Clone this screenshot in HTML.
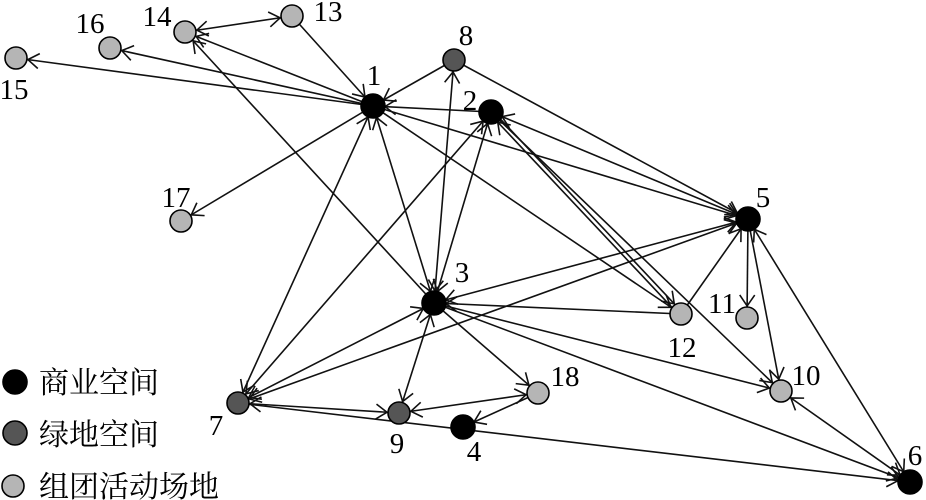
<!DOCTYPE html>
<html><head><meta charset="utf-8">
<style>
html,body{margin:0;padding:0;background:#fff;}
svg{display:block;}
.num{font-family:"Liberation Serif","Noto Serif CJK SC",serif;font-size:29px;fill:#000;text-anchor:middle;}
.leg{font-family:"Liberation Serif","Noto Serif CJK SC",serif;font-size:30px;fill:#000;}
line{stroke:#111;stroke-width:1.6;fill:none;}
line.e{marker-end:url(#ae);}
line.b{marker-end:url(#ae);marker-start:url(#as);}
circle{stroke:#000;stroke-width:1.6;}
.k{fill:#000;}
.d{fill:#555;}
.l{fill:#b5b5b5;}
</style></head>
<body>
<svg width="926" height="500" viewBox="0 0 926 500" xmlns="http://www.w3.org/2000/svg">
<defs>
<marker id="ae" markerUnits="userSpaceOnUse" markerWidth="40" markerHeight="40" refX="0" refY="0" orient="auto" overflow="visible" viewBox="-40 -20 40 40">
<path d="M -23,-7.5 L -12,0 L -23,7.5" fill="none" stroke="#111" stroke-width="1.6"/>
</marker>
<marker id="as" markerUnits="userSpaceOnUse" markerWidth="40" markerHeight="40" refX="0" refY="0" orient="auto-start-reverse" overflow="visible" viewBox="-40 -20 40 40">
<path d="M -23,-7.5 L -12,0 L -23,7.5" fill="none" stroke="#111" stroke-width="1.6"/>
</marker>
</defs>

<!-- edges -->
<line class="b" x1="292" y1="16" x2="185" y2="32"/>
<line class="e" x1="373" y1="106" x2="185" y2="32"/>
<line class="e" x1="373" y1="106" x2="110" y2="48"/>
<line class="e" x1="373" y1="106" x2="16" y2="58"/>
<line class="e" x1="292" y1="16" x2="373" y2="106"/>
<line class="e" x1="373" y1="106" x2="181" y2="221"/>
<line class="e" x1="454" y1="60" x2="373" y2="106"/>
<line class="e" x1="491" y1="112" x2="373" y2="106"/>
<line class="e" x1="373" y1="106" x2="748" y2="219"/>
<line class="e" x1="373" y1="106" x2="681" y2="314"/>
<line class="b" x1="373" y1="106" x2="238" y2="403"/>
<line class="b" x1="373" y1="106" x2="434" y2="303"/>
<line class="e" x1="434" y1="303" x2="185" y2="32"/>
<line class="b" x1="434" y1="303" x2="454" y2="60"/>
<line class="b" x1="434" y1="303" x2="491" y2="112"/>
<line class="b" x1="238" y1="403" x2="491" y2="112"/>
<line class="b" x1="748" y1="219" x2="491" y2="112"/>
<line class="e" x1="492.5" y1="110.6" x2="682.5" y2="312.6"/>
<line class="e" x1="679.5" y1="315.4" x2="489.5" y2="113.4"/>
<line class="e" x1="491" y1="112" x2="781" y2="391"/>
<line class="e" x1="454" y1="60" x2="748" y2="219"/>
<line class="b" x1="434" y1="303" x2="748" y2="219"/>
<line class="b" x1="238" y1="403" x2="748" y2="219"/>
<line class="b" x1="434" y1="303" x2="238" y2="403"/>
<line class="e" x1="681" y1="314" x2="434" y2="303"/>
<line class="e" x1="434" y1="303" x2="781" y2="391"/>
<line class="e" x1="434" y1="303" x2="910" y2="482"/>
<line class="e" x1="434" y1="303" x2="538" y2="393"/>
<line class="b" x1="434" y1="303" x2="399" y2="413"/>
<line class="b" x1="238" y1="403" x2="399" y2="413"/>
<line class="b" x1="399" y1="413" x2="538" y2="393"/>
<line class="e" x1="538" y1="393" x2="463" y2="427"/>
<line class="e" x1="238" y1="403" x2="910" y2="482"/>
<line class="e" x1="681" y1="314" x2="748" y2="219"/>
<line class="e" x1="748" y1="219" x2="747" y2="318"/>
<line class="e" x1="748" y1="219" x2="781" y2="391"/>
<line class="b" x1="748" y1="219" x2="910" y2="482"/>
<line class="b" x1="781" y1="391" x2="910" y2="482"/>

<!-- nodes -->
<circle class="k" cx="373" cy="106" r="12"/>
<circle class="k" cx="491" cy="112" r="12"/>
<circle class="k" cx="434" cy="303" r="12"/>
<circle class="k" cx="463" cy="427" r="12"/>
<circle class="k" cx="748" cy="219" r="12"/>
<circle class="k" cx="910" cy="482" r="12"/>
<circle class="d" cx="238" cy="403" r="11"/>
<circle class="d" cx="454" cy="60" r="11"/>
<circle class="d" cx="399" cy="413" r="11"/>
<circle class="l" cx="781" cy="391" r="11"/>
<circle class="l" cx="747" cy="318" r="11"/>
<circle class="l" cx="681" cy="314" r="11"/>
<circle class="l" cx="292" cy="16" r="11"/>
<circle class="l" cx="185" cy="32" r="11"/>
<circle class="l" cx="16" cy="58" r="11"/>
<circle class="l" cx="110" cy="48" r="11"/>
<circle class="l" cx="181" cy="221" r="11"/>
<circle class="l" cx="538" cy="393" r="11"/>

<!-- labels -->
<text class="num" x="374" y="85">1</text>
<text class="num" x="470" y="110">2</text>
<text class="num" x="462" y="282">3</text>
<text class="num" x="474" y="461">4</text>
<text class="num" x="763" y="207">5</text>
<text class="num" x="915" y="465">6</text>
<text class="num" x="216" y="435">7</text>
<text class="num" x="466" y="45">8</text>
<text class="num" x="397" y="453">9</text>
<text class="num" x="806" y="385">10</text>
<text class="num" x="722" y="313">11</text>
<text class="num" x="682" y="357">12</text>
<text class="num" x="328" y="21">13</text>
<text class="num" x="157" y="26">14</text>
<text class="num" x="14" y="99">15</text>
<text class="num" x="90" y="33">16</text>
<text class="num" x="176" y="207">17</text>
<text class="num" x="565" y="386">18</text>

<!-- legend -->
<circle class="k" cx="15" cy="382" r="12"/>
<circle class="d" cx="15" cy="433" r="12"/>
<circle class="l" cx="13" cy="486" r="11"/>
<text class="leg" x="39" y="393">商业空间</text>
<text class="leg" x="39" y="445">绿地空间</text>
<text class="leg" x="39" y="497">组团活动场地</text>
</svg>
</body></html>
